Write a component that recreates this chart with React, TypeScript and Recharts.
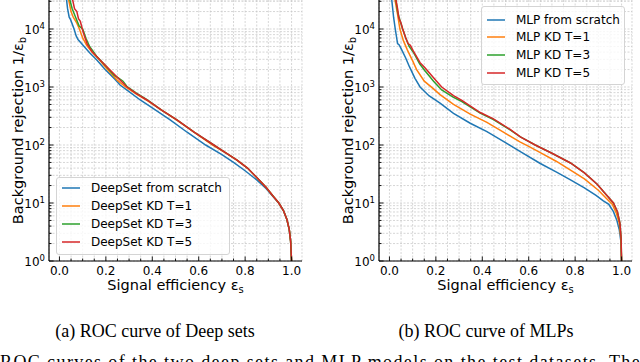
import React from 'react';
import { LineChart, Line, XAxis, YAxis, CartesianGrid } from 'recharts';

const FONT = "'DejaVu Sans', Verdana, sans-serif";
const SERIF = "'Liberation Serif', 'Times New Roman', serif";
const COLORS = ['#1f77b4', '#ff7f0e', '#2ca02c', '#d62728'];

// ---------- series names ----------
const deepSetNames = ['DeepSet from scratch', 'DeepSet KD T=1', 'DeepSet KD T=3', 'DeepSet KD T=5'];
const mlpNames = ['MLP from scratch', 'MLP KD T=1', 'MLP KD T=3', 'MLP KD T=5'];

// ---------- (a) Deep sets ----------
const dsScratchEff = [0.025, 0.035, 0.042, 0.048, 0.063, 0.072, 0.08, 0.095, 0.11, 0.13, 0.161, 0.197, 0.24, 0.261, 0.3, 0.348, 0.4, 0.477, 0.55, 0.63, 0.7, 0.75, 0.8, 0.85, 0.89, 0.92, 0.945, 0.965, 0.98, 0.99, 0.996, 1.0];
const dsScratchRej = [50000, 22400, 16000, 14500, 10000, 7600, 6600, 5600, 4800, 3900, 2920, 2000, 1350, 1080, 830, 597, 437, 270, 166, 100, 68, 50, 36, 25, 17.8, 12.9, 10, 7.4, 5.2, 3.5, 2.2, 1];

const dsKd1Eff = [0.035, 0.04, 0.05, 0.06, 0.075, 0.086, 0.1, 0.118, 0.14, 0.17, 0.21, 0.25, 0.285, 0.33, 0.377, 0.44, 0.506, 0.58, 0.66, 0.72, 0.765, 0.81, 0.85, 0.89, 0.92, 0.945, 0.965, 0.98, 0.99, 0.996, 1.0];
const dsKd1Rej = [50000, 31600, 20000, 15800, 12600, 10000, 7000, 5200, 4000, 3000, 1950, 1300, 1000, 759, 589, 398, 269, 166, 100, 72, 55, 40, 27.5, 18.6, 13.2, 10, 7.4, 5.2, 3.5, 2.2, 1];

const dsKd3Eff = [0.04, 0.045, 0.055, 0.07, 0.085, 0.1, 0.115, 0.13, 0.16, 0.2, 0.235, 0.255, 0.274, 0.29, 0.33, 0.377, 0.44, 0.506, 0.58, 0.665, 0.72, 0.765, 0.81, 0.85, 0.89, 0.92, 0.945, 0.965, 0.98, 0.99, 0.996, 1.0];
const dsKd3Rej = [50000, 31600, 22400, 15800, 11200, 10000, 6800, 5000, 3400, 2300, 1600, 1420, 1260, 1030, 794, 603, 398, 270, 166, 100, 72, 55, 40, 27.5, 18.6, 13.2, 10, 7.4, 5.2, 3.5, 2.2, 1];

const dsKd5Eff = [0.05, 0.057, 0.065, 0.075, 0.082, 0.09, 0.1, 0.108, 0.12, 0.14, 0.175, 0.218, 0.261, 0.29, 0.33, 0.377, 0.44, 0.506, 0.58, 0.665, 0.72, 0.765, 0.81, 0.85, 0.89, 0.92, 0.945, 0.965, 0.98, 0.99, 0.996, 1.0];
const dsKd5Rej = [50000, 31600, 22400, 20000, 15000, 13500, 9500, 7500, 5500, 4100, 2920, 1960, 1320, 1010, 776, 597, 398, 270, 166, 100, 72, 55, 40, 27.5, 18.6, 13.2, 10, 7.4, 5.2, 3.5, 2.2, 1];

// ---------- (b) MLPs ----------
const mlpScratchEff = [0.005, 0.01, 0.018, 0.025, 0.03, 0.035, 0.042, 0.053, 0.07, 0.086, 0.11, 0.132, 0.17, 0.218, 0.276, 0.348, 0.42, 0.5, 0.564, 0.65, 0.72, 0.78, 0.84, 0.89, 0.92, 0.945, 0.965, 0.98, 0.99, 0.997, 1.0];
const mlpScratchRej = [63000, 31600, 15800, 10000, 7500, 5600, 5300, 4370, 3160, 2240, 1410, 1000, 708, 525, 352, 237, 170, 110, 77, 48, 34, 25, 18.2, 13.5, 11, 9.5, 7.1, 5, 3.5, 2.2, 1];

const mlpKd1Eff = [0.015, 0.024, 0.035, 0.045, 0.06, 0.077, 0.1, 0.117, 0.15, 0.19, 0.218, 0.276, 0.348, 0.42, 0.5, 0.564, 0.6, 0.65, 0.72, 0.78, 0.84, 0.9, 0.935, 0.96, 0.978, 0.99, 0.997, 1.0];
const mlpKd1Rej = [63000, 31600, 17800, 10000, 6300, 4370, 2820, 2000, 1260, 930, 740, 500, 340, 245, 158, 112, 95, 74, 52, 37, 26, 16.6, 12, 9.5, 6.6, 4.5, 2.5, 1];

const mlpKd3Eff = [0.02, 0.028, 0.035, 0.045, 0.057, 0.07, 0.085, 0.103, 0.13, 0.153, 0.19, 0.225, 0.276, 0.312, 0.391, 0.448, 0.52, 0.564, 0.628, 0.7, 0.78, 0.84, 0.895, 0.935, 0.965, 0.982, 0.993, 0.998, 1.0];
const mlpKd3Rej = [63000, 31600, 20000, 14100, 10000, 7080, 5010, 3980, 2510, 1910, 1260, 891, 661, 562, 355, 275, 182, 138, 100, 72, 49, 33, 21, 13.8, 10, 7.1, 4.5, 2.5, 1];

const mlpKd5Eff = [0.02, 0.028, 0.035, 0.04, 0.05, 0.057, 0.07, 0.08, 0.09, 0.103, 0.132, 0.153, 0.19, 0.225, 0.276, 0.312, 0.391, 0.448, 0.52, 0.564, 0.628, 0.7, 0.78, 0.84, 0.895, 0.935, 0.965, 0.982, 0.993, 0.998, 1.0];
const mlpKd5Rej = [63000, 31600, 22400, 15800, 12600, 10000, 7080, 5620, 5250, 4170, 2630, 2140, 1450, 1000, 708, 589, 363, 282, 186, 138, 100, 72, 49, 33, 21, 13.8, 10, 7.1, 4.5, 2.5, 1];

// ---------- ticks ----------
const xMajorTicks = [0, 0.2, 0.4, 0.6, 0.8, 1.0];
const xMinorTicks = [0.05, 0.1, 0.15, 0.25, 0.3, 0.35, 0.45, 0.5, 0.55, 0.65, 0.7, 0.75, 0.85, 0.9, 0.95];
const yMajorTicks = [1, 10, 100, 1000, 10000];
const yMinorTicks = [2, 3, 4, 5, 6, 7, 8, 9, 20, 30, 40, 50, 60, 70, 80, 90, 200, 300, 400, 500, 600, 700, 800, 900, 2000, 3000, 4000, 5000, 6000, 7000, 8000, 9000, 20000, 30000];

const X_DOMAIN: [number, number] = [-0.045, 1.045];
const Y_DOMAIN: [number, number] = [1, 31623];
const xTicks = [...xMajorTicks, ...xMinorTicks].sort((a, b) => a - b);
const yTicks = [...yMajorTicks, ...yMinorTicks].sort((a, b) => a - b);

const zip = (xs: number[], ys: number[]) => xs.map((x, i) => ({ eff: x, rej: ys[i] }));
const isMajorX = (v: number) => xMajorTicks.some((m) => Math.abs(m - v) < 1e-9);
const isMajorY = (v: number) => yMajorTicks.some((m) => Math.abs(m - v) < 1e-9);

const TICK_W = 0.9;
const MAJ = 4.5;
const MIN = 2.5;

function BottomTick(p: any) {
  const { x, y, payload } = p;
  const major = isMajorX(payload.value);
  return (
    <g>
      <line x1={x} y1={y} x2={x} y2={y - (major ? MAJ : MIN)} stroke="#000" strokeWidth={TICK_W} />
      {major && (
        <text x={x} y={y + 13.5} textAnchor="middle" fontSize={12} fontFamily={FONT} fill="#000">
          {Number(payload.value).toFixed(1)}
        </text>
      )}
    </g>
  );
}
function TopTick(p: any) {
  const { x, y, payload } = p;
  const major = isMajorX(payload.value);
  return <line x1={x} y1={y} x2={x} y2={y + (major ? MAJ : MIN)} stroke="#000" strokeWidth={TICK_W} />;
}
function LeftTick(p: any) {
  const { x, y, payload } = p;
  const major = isMajorY(payload.value);
  const exp = Math.round(Math.log10(payload.value));
  return (
    <g>
      <line x1={x} y1={y} x2={x + (major ? MAJ : MIN)} y2={y} stroke="#000" strokeWidth={TICK_W} />
      {major && (
        <text x={x - 4} y={y + 5} textAnchor="end" fontSize={12} fontFamily={FONT} fill="#000">
          10<tspan dy={-5.5} fontSize={8.5}>{exp}</tspan>
        </text>
      )}
    </g>
  );
}
function RightTick(p: any) {
  const { x, y, payload } = p;
  const major = isMajorY(payload.value);
  return <line x1={x} y1={y} x2={x - (major ? MAJ : MIN)} y2={y} stroke="#000" strokeWidth={TICK_W} />;
}

function XTitle(p: any) {
  const vb = p.viewBox || { x: 49, y: 261, width: 253, height: 39 };
  const cx = vb.x + vb.width / 2;
  return (
    <text x={cx} y={vb.y + 28.5} textAnchor="middle" fontSize={14.5} fontFamily={FONT} fill="#000">
      Signal efficiency ε<tspan dy={3} fontSize={10}>s</tspan>
    </text>
  );
}
function YTitle(p: any) {
  const vb = p.viewBox || { x: 0, y: 0, width: 49, height: 261 };
  const cx = vb.x + vb.width - 26;
  const cy = vb.y + vb.height / 2;
  return (
    <text x={cx} y={cy} transform={`rotate(-90, ${cx}, ${cy})`} textAnchor="middle" fontSize={14.5} fontFamily={FONT} fill="#000">
      Background rejection 1/ε<tspan dy={3} fontSize={10}>b</tspan>
    </text>
  );
}

type PanelProps = {
  effs: number[][];
  rejs: number[][];
  names: string[];
  legend: { left: number; top: number; width: number; height: number; rowTop: number; rowStep: number };
};

function Panel({ effs, rejs, names, legend }: PanelProps) {
  const axisLine = { stroke: '#000', strokeWidth: 1.2 };
  return (
    <div style={{ position: 'relative', width: 310, height: 300 }}>
      <LineChart width={310} height={300} margin={{ top: 0, right: 8, bottom: 0, left: 0 }}>
        <CartesianGrid xAxisId="b" yAxisId="l" stroke="#c4c4c4" strokeDasharray="2 1.5" strokeWidth={0.7} />
        <XAxis
          xAxisId="b"
          type="number"
          dataKey="eff"
          domain={X_DOMAIN}
          allowDataOverflow
          ticks={xTicks}
          interval={0}
          tickSize={0}
          tickMargin={0}
          height={39}
          axisLine={axisLine}
          tickLine={false}
          tick={(p: any) => <BottomTick {...p} />}
          label={{ content: (p: any) => <XTitle {...p} /> }}
        />
        <XAxis
          xAxisId="t"
          orientation="top"
          type="number"
          dataKey="eff"
          domain={X_DOMAIN}
          allowDataOverflow
          ticks={xTicks}
          interval={0}
          tickSize={0}
          tickMargin={0}
          height={0}
          axisLine={axisLine}
          tickLine={false}
          tick={(p: any) => <TopTick {...p} />}
        />
        <YAxis
          yAxisId="l"
          type="number"
          scale="log"
          domain={Y_DOMAIN}
          allowDataOverflow
          ticks={yTicks}
          interval={0}
          tickSize={0}
          tickMargin={0}
          width={49}
          axisLine={axisLine}
          tickLine={false}
          tick={(p: any) => <LeftTick {...p} />}
          label={{ content: (p: any) => <YTitle {...p} /> }}
        />
        <YAxis
          yAxisId="r"
          orientation="right"
          type="number"
          scale="log"
          domain={Y_DOMAIN}
          allowDataOverflow
          ticks={yTicks}
          interval={0}
          tickSize={0}
          tickMargin={0}
          width={0}
          axisLine={axisLine}
          tickLine={false}
          tick={(p: any) => <RightTick {...p} />}
        />
        {names.map((n, i) => (
          <Line
            key={n}
            xAxisId="b"
            yAxisId="l"
            name={n}
            data={zip(effs[i], rejs[i])}
            dataKey="rej"
            type="linear"
            stroke={COLORS[i]}
            strokeWidth={1.5}
            dot={false}
            activeDot={false}
            isAnimationActive={false}
          />
        ))}
      </LineChart>
      <div
        style={{
          position: 'absolute',
          left: legend.left,
          top: legend.top,
          width: legend.width,
          height: legend.height,
          background: 'rgba(255,255,255,0.8)',
          border: '1px solid #d4d4d4',
          borderRadius: 3,
          boxSizing: 'border-box',
        }}
      >
        {names.map((n, i) => (
          <div
            key={n}
            style={{
              position: 'absolute',
              left: 5,
              top: legend.rowTop + i * legend.rowStep,
              height: 18,
              display: 'flex',
              alignItems: 'center',
              whiteSpace: 'nowrap',
            }}
          >
            <svg width={18} height={4} style={{ display: 'block' }}>
              <line x1={0} y1={2} x2={18} y2={2} stroke={COLORS[i]} strokeWidth={1.5} />
            </svg>
            <span style={{ marginLeft: 11, fontSize: 12, fontFamily: FONT, color: '#000', lineHeight: '18px' }}>{n}</span>
          </div>
        ))}
      </div>
    </div>
  );
}

export default function App() {
  return (
    <div style={{ position: 'absolute', left: 0, top: 0, width: 640, height: 362, background: '#fff', overflow: 'hidden' }}>
      <svg width={640} height={362} style={{ position: 'absolute', left: 0, top: 0 }}>
        <text x={155} y={337} textAnchor="middle" fontSize={18} fontFamily={SERIF} fill="#000">
          (a) ROC curve of Deep sets
        </text>
        <text x={486} y={337} textAnchor="middle" fontSize={18} fontFamily={SERIF} fill="#000">
          (b) ROC curve of MLPs
        </text>
        <text x={0} y={368} fontSize={18} fontFamily={SERIF} fill="#000" textLength={652} lengthAdjust="spacing">
          ROC curves of the two deep sets and MLP models on the test datasets. The l
        </text>
      </svg>
      <div style={{ position: 'absolute', left: 0, top: 0 }}>
        <Panel
          effs={[dsScratchEff, dsKd1Eff, dsKd3Eff, dsKd5Eff]}
          rejs={[dsScratchRej, dsKd1Rej, dsKd3Rej, dsKd5Rej]}
          names={deepSetNames}
          legend={{ left: 56, top: 177, width: 174, height: 78, rowTop: 1.3, rowStep: 18 }}
        />
      </div>
      <div style={{ position: 'absolute', left: 330, top: 0 }}>
        <Panel
          effs={[mlpScratchEff, mlpKd1Eff, mlpKd3Eff, mlpKd5Eff]}
          rejs={[mlpScratchRej, mlpKd1Rej, mlpKd3Rej, mlpKd5Rej]}
          names={mlpNames}
          legend={{ left: 151, top: 6, width: 144, height: 79, rowTop: 3.6, rowStep: 17.8 }}
        />
      </div>
    </div>
  );
}
